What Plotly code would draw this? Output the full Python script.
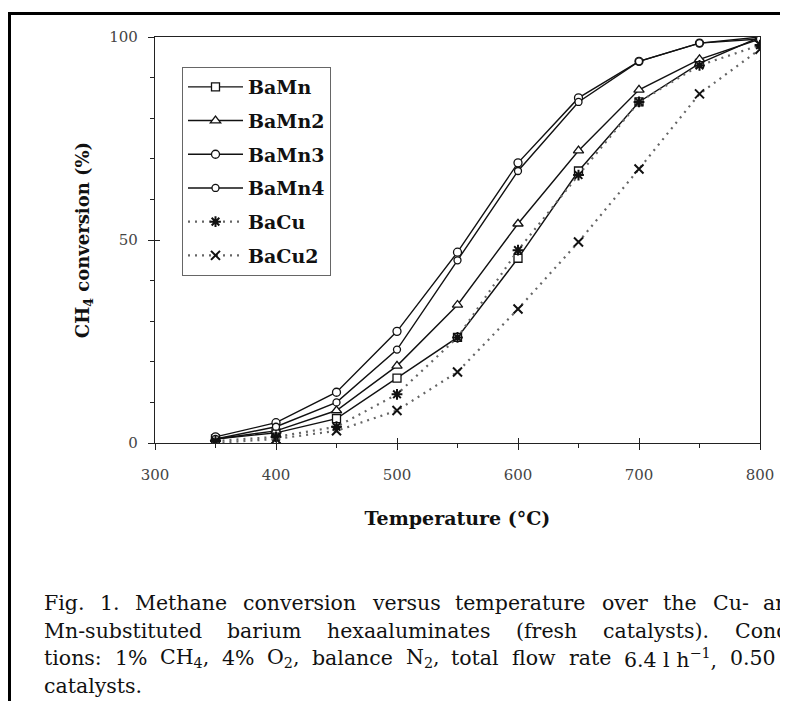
import re
import plotly.graph_objects as go

# ---------------- data ----------------
temperature = [350, 400, 450, 500, 550, 600, 650, 700, 750, 800]
bamn = [1, 2.5, 6, 16, 26, 45.5, 67, 84, 93.5, 100]
bamn2 = [1, 3, 8, 19, 34, 54, 72, 87, 94.5, 99.5]
bamn3 = [1.5, 5, 12.5, 27.5, 47, 69, 85, 94, 98.5, 100]
bamn4 = [1, 4, 10, 23, 45, 67, 84, 94, 98.5, 99.5]
bacu = [0.5, 1.5, 4, 12, 26, 47.5, 66, 84, 93, 98]
bacu2 = [0, 1, 3, 8, 17.5, 33, 49.5, 67.5, 86, 97]

series_names = ["BaMn", "BaMn2", "BaMn3", "BaMn4", "BaCu", "BaCu2"]
series_values = [bamn, bamn2, bamn3, bamn4, bacu, bacu2]

x_ticks = [300, 400, 500, 600, 700, 800]
y_ticks = [0, 50, 100]

caption_lines = [
    ["Fig.", "1.", "Methane", "conversion", "versus", "temperature", "over", "the", "Cu-", "and"],
    ["Mn-substituted", "barium", "hexaaluminates", "(fresh", "catalysts).", "Condi-"],
    ["tions:", "1%", "CH<sub>4</sub>,", "4%", "O<sub>2</sub>,", "balance", "N<sub>2</sub>,", "total",
     "flow", "rate", "6.4 l h<sup>−1</sup>,", "0.50", "g"],
    ["catalysts."],
]

# ---------------- styles ----------------
SERIF = "DejaVu Serif"
styles = {
    "BaMn": dict(symbol="square", size=8, dash="solid", lw=1.4, lc="#111"),
    "BaMn2": dict(symbol="triangle-up", size=9, dash="solid", lw=1.4, lc="#111"),
    "BaMn3": dict(symbol="circle", size=8, dash="solid", lw=1.4, lc="#111"),
    "BaMn4": dict(symbol="circle", size=7, dash="solid", lw=1.4, lc="#111"),
    "BaCu": dict(symbol="asterisk-open", size=9, dash="2px,5px", lw=2.2, lc="#666"),
    "BaCu2": dict(symbol="x-thin-open", size=9, dash="2px,5px", lw=2.2, lc="#666"),
}

fig = go.Figure()
for name, vals in zip(series_names, series_values):
    st = styles[name]
    open_sym = st["symbol"].endswith("open")
    fig.add_trace(go.Scatter(
        x=temperature, y=vals, name=name, mode="lines+markers",
        legendgroup=name,
        line=dict(color=st["lc"], width=st["lw"], dash=st["dash"]),
        marker=dict(symbol=st["symbol"], size=st["size"],
                    color="#111" if open_sym else "white",
                    line=dict(color="#111", width=2 if open_sym else 1.3)),
    ))

# empty trace on overlay axes so the inward half of major ticks is drawn
fig.add_trace(go.Scatter(x=[], y=[], xaxis="x2", yaxis="y2", showlegend=False))

# ---------------- layout geometry ----------------
OFF = 8                      # page body margin in the browser
W, H = 788 - OFF, 701 - OFF  # figure size
L, R, T, B = 155, 760, 37, 443   # plot area in screen pixels


def px2paper_x(px):
    return (px - L) / (R - L)


def px2paper_y(py):
    return (B - py) / (B - T)


tickfont = dict(family=SERIF, size=15, color="#444")
axis_common = dict(showline=True, linecolor="#222", linewidth=1.3, mirror=True,
                   ticks="outside", ticklen=6, tickwidth=1.3, tickcolor="#222",
                   showgrid=False, zeroline=False, tickfont=tickfont)

fig.update_layout(
    width=W, height=H, autosize=False,
    margin=dict(l=L - OFF, r=788 - R, t=T - OFF, b=701 - B, autoexpand=False),
    paper_bgcolor="white", plot_bgcolor="white",
    showlegend=True,
    legend=dict(
        x=px2paper_x(182), y=px2paper_y(67), xanchor="left", yanchor="top",
        bgcolor="white", bordercolor="#666", borderwidth=1,
        font=dict(family=SERIF, size=19, color="#111", weight="bold"),
        itemwidth=55, tracegroupgap=6, traceorder="grouped",
    ),
    xaxis=dict(range=[300, 800], tickvals=x_ticks, ticktext=[str(v) for v in x_ticks],
               minor=dict(dtick=50, ticks="outside", ticklen=4, tickwidth=1.1, tickcolor="#222"),
               ticklabelstandoff=12,
               title=dict(text="<b>Temperature (°C)</b>", standoff=28,
                          font=dict(family=SERIF, size=19, color="#111")),
               **axis_common),
    yaxis=dict(range=[0, 100], tickvals=y_ticks, ticktext=[str(v) for v in y_ticks],
               minor=dict(dtick=10, ticks="outside", ticklen=4, tickwidth=1.1, tickcolor="#222"),
               ticklabelstandoff=7,
               title=dict(text="<b>CH<sub>4</sub> conversion (%)</b>", standoff=14,
                          font=dict(family=SERIF, size=18, color="#111")),
               **axis_common),
    xaxis2=dict(overlaying="x", range=[300, 800], tickvals=x_ticks, ticks="inside", ticklen=5,
                tickwidth=1.3, tickcolor="#222", showticklabels=False, showline=False,
                showgrid=False, zeroline=False),
    yaxis2=dict(overlaying="y", range=[0, 100], tickvals=y_ticks, ticks="inside", ticklen=5,
                tickwidth=1.3, tickcolor="#222", showticklabels=False, showline=False,
                showgrid=False, zeroline=False),
)

# ---------------- page border ----------------
fig.add_shape(type="line", xref="paper", yref="paper",
              x0=px2paper_x(9.5), x1=px2paper_x(792), y0=px2paper_y(13.5), y1=px2paper_y(13.5),
              line=dict(color="black", width=3))
fig.add_shape(type="line", xref="paper", yref="paper",
              x0=px2paper_x(9.5), x1=px2paper_x(9.5), y0=px2paper_y(12), y1=px2paper_y(705),
              line=dict(color="black", width=3))

# ---------------- caption (justified) ----------------
CW = {
    'a': .596, 'b': .640, 'c': .560, 'd': .640, 'e': .592, 'f': .370, 'g': .640, 'h': .644,
    'i': .320, 'j': .310, 'k': .606, 'l': .320, 'm': .948, 'n': .644, 'o': .602, 'p': .640,
    'q': .640, 'r': .478, 's': .513, 't': .402, 'u': .644, 'v': .565, 'w': .856, 'x': .564,
    'y': .565, 'z': .527, 'C': .715, 'F': .683, 'M': .995, 'N': .812, 'O': .787, 'H': .872,
    '.': .318, ',': .318, ':': .337, '-': .338, '(': .390, ')': .390, '%': .950, ' ': .318,
    '−': .838,
}
for d in "0123456789":
    CW[d] = .636


def word_width(word, size):
    total = 0.0
    for part in re.split(r'(<su[bp]>.*?</su[bp]>)', word):
        m = re.match(r'<su[bp]>(.*?)</su[bp]>', part)
        if m:
            total += 0.7 * sum(CW.get(c, .6) for c in m.group(1))
        else:
            total += sum(CW.get(c, .6) for c in part)
    return total * size


CAP_SIZE = 20.5
cap_left, cap_right = 42, 800
cap_y = [603, 631, 658, 686]
for li, words in enumerate(caption_lines):
    widths = [word_width(w, CAP_SIZE) for w in words]
    if len(words) > 1 and li < len(caption_lines) - 1:
        gap = (cap_right - cap_left - sum(widths)) / (len(words) - 1)
        gap = max(gap, CW[' '] * CAP_SIZE)
    else:
        gap = CW[' '] * CAP_SIZE
    xpos = cap_left
    for w, wd in zip(words, widths):
        fig.add_annotation(x=px2paper_x(xpos), y=px2paper_y(cap_y[li]), xref="paper", yref="paper",
                           text=w, showarrow=False, xanchor="left", yanchor="middle",
                           font=dict(family=SERIF, size=CAP_SIZE, color="#111"))
        xpos += wd + gap

fig.write_html("out.html")
